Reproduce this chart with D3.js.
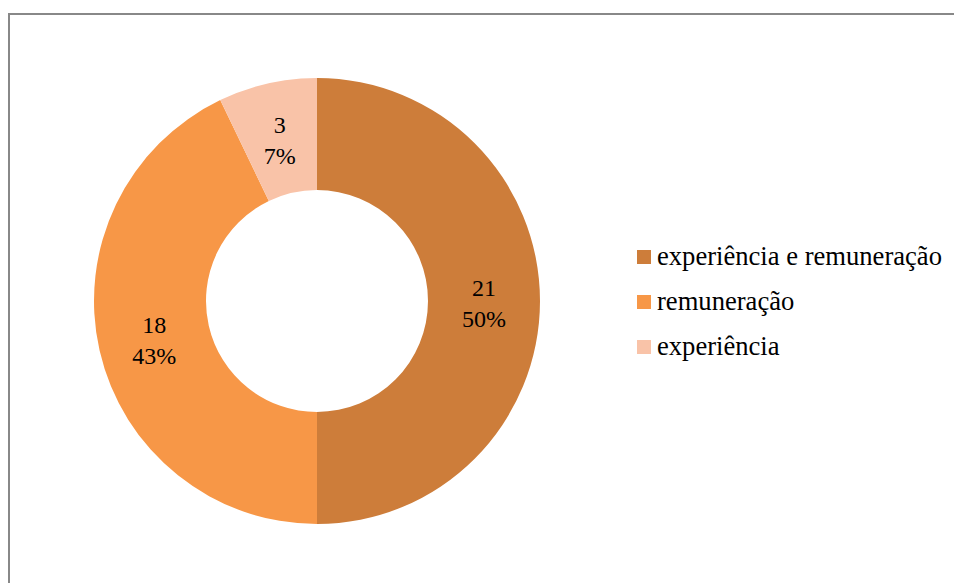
<!DOCTYPE html>
<html>
<head>
<meta charset="utf-8">
<script src="https://cdn.jsdelivr.net/npm/d3@7"></script>
<style>
  html, body { margin: 0; padding: 0; background: #fff; }
  svg { display: block; }
</style>
</head>
<body>
<svg id="chart" width="954" height="583"></svg>
<script>
// Motivos: experiência, remuneração ou ambos
const categories = ["experiência e remuneração", "remuneração", "experiência"];
const counts = [21, 18, 3];
const colors = ["#CD7D3A", "#F79747", "#F9C3A8"];

const FONT = "'Liberation Serif', 'Times New Roman', 'DejaVu Serif', serif";

const svg = d3.select("#chart");
const W = 954, H = 583;

// chart-area frame (runs past the right and bottom edges)
svg.append("rect")
  .attr("x", 9).attr("y", 14)
  .attr("width", W + 20).attr("height", H + 20)
  .attr("fill", "#fff")
  .attr("stroke", "#888").attr("stroke-width", 2);

const cx = 317, cy = 301;
const outerR = 223, innerR = 111;

const total = d3.sum(counts);
const data = categories.map((c, i) => ({ name: c, value: counts[i], color: colors[i] }));

const pie = d3.pie().value(d => d.value).sort(null);
const arc = d3.arc().innerRadius(innerR).outerRadius(outerR);

const g = svg.append("g").attr("transform", `translate(${cx},${cy})`);
const arcs = pie(data);

g.selectAll("path.slice")
  .data(arcs)
  .join("path")
  .attr("class", "slice")
  .attr("d", arc)
  .attr("fill", d => d.data.color);

// value + percentage labels at each slice centroid
const fmtPct = v => Math.round(v / total * 100) + "%";
const labels = g.selectAll("text.lbl")
  .data(arcs)
  .join("text")
  .attr("class", "lbl")
  .attr("text-anchor", "middle")
  .attr("font-family", FONT)
  .attr("font-size", 24)
  .attr("fill", "#000")
  .attr("transform", d => {
    const [x, y] = arc.centroid(d);
    return `translate(${x},${y})`;
  });
labels.append("tspan").attr("x", 0).attr("y", -5).text(d => d.data.value);
labels.append("tspan").attr("x", 0).attr("y", 26).text(d => fmtPct(d.data.value));

// legend
const legend = svg.append("g").attr("transform", "translate(637,250)");
const rows = legend.selectAll("g.row")
  .data(data)
  .join("g")
  .attr("class", "row")
  .attr("transform", (d, i) => `translate(0,${i * 45})`);
rows.append("rect")
  .attr("width", 14).attr("height", 14)
  .attr("fill", d => d.color);
rows.append("text")
  .attr("x", 20).attr("y", 15)
  .attr("font-family", FONT)
  .attr("font-size", 26.6)
  .attr("fill", "#000")
  .text(d => d.name);
</script>
</body>
</html>
